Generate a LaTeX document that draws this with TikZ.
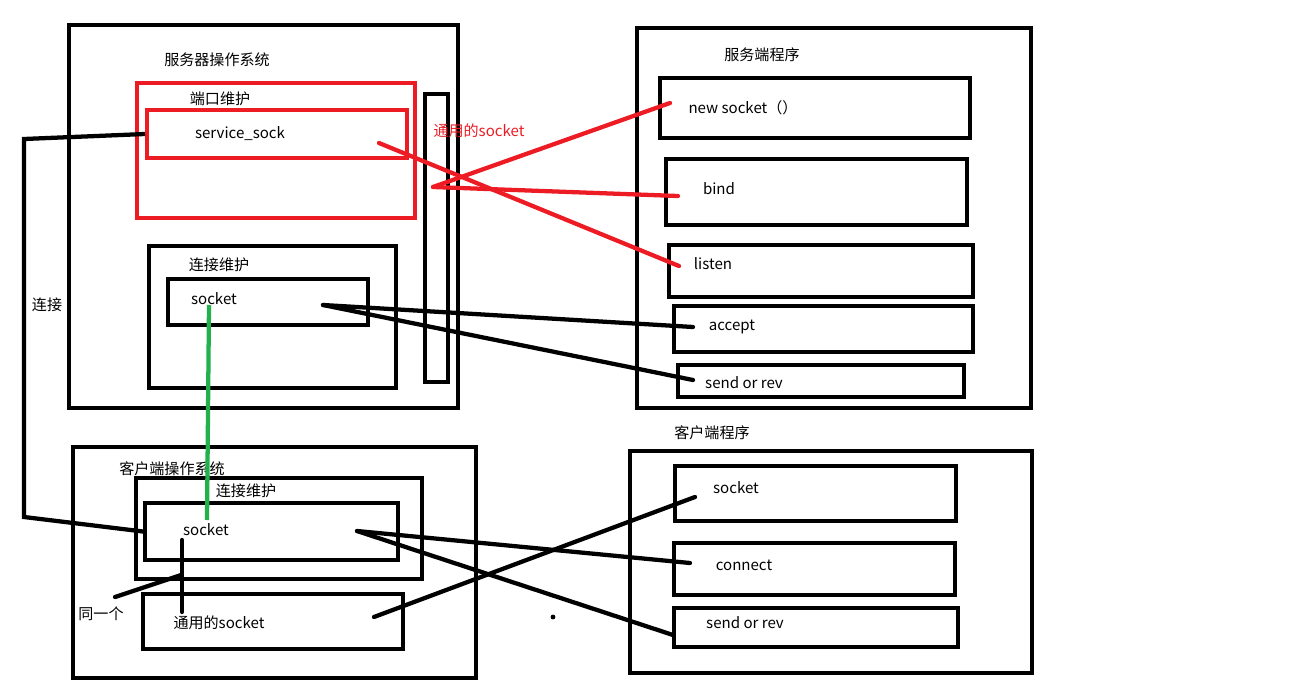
\documentclass[tikz,border=0pt]{standalone}
\usepackage{fontspec}
\setmainfont{Noto Sans CJK SC}
\usetikzlibrary{fit}
\definecolor{pred}{RGB}{237,28,36}
\definecolor{pgreen}{RGB}{34,177,76}
\tikzset{
  bx/.style={draw=black, line width=3pt, inner sep=0pt, rectangle},
  rbx/.style={draw=pred, line width=3pt, inner sep=0pt, rectangle},
  lbl/.style={font=\fontsize{11.3}{13}\selectfont, inner sep=1pt},
  rlbl/.style={lbl, text=pred},
  bl/.style={draw=black, line width=3.2pt, line cap=round},
  rl/.style={draw=pred, line width=3.2pt, line cap=round},
  gl/.style={draw=pgreen, line width=3.2pt},
}
\begin{document}
\begin{tikzpicture}[x=0.75pt,y=-0.75pt]
\useasboundingbox (0,0) rectangle (1307,692);
% ---- server OS ----
\node[bx, fit={(69,25) (458,408)}] (sos) {};
\node[lbl] (sosT) at (217,60) {服务器操作系统};
\node[rbx, fit={(137,83) (415,218)}] (port) {};
\node[lbl] (portT) at (220,99) {端口维护};
\node[rbx, fit={(147,110) (407,158)}] (ssock) {};
\node[lbl] (ssockT) at (240,134) {service\_sock};
\node[bx, fit={(425,94) (448,382)}] (bar) {};
\node[rlbl] (gsT) at (479,131) {通用的socket};
\node[bx, fit={(149,246) (396,388)}] (sconn) {};
\node[lbl] (sconnT) at (219,265) {连接维护};
\node[bx, fit={(168,279) (368,325)}] (ssk) {};
\node[lbl] (sskT) at (214,299) {socket};
% ---- server program ----
\node[bx, fit={(637,28) (1031,408)}] (sprog) {};
\node[lbl] (sprogT) at (762,55) {服务端程序};
\node[bx, fit={(660,78) (970,138)}] (newb) {};
\node[lbl] (newT) at (743,108) {new socket（）};
\node[bx, fit={(666,159) (967,225)}] (bindb) {};
\node[lbl] (bindT) at (719,189) {bind};
\node[bx, fit={(669,245) (973,297)}] (listb) {};
\node[lbl] (listT) at (713,264) {listen};
\node[bx, fit={(674,306) (973,352)}] (accb) {};
\node[lbl] (accT) at (732,327) {accept};
\node[bx, fit={(678,365) (964,397)}] (ssrb) {};
\node[lbl] (ssrT) at (744,383) {send or rev};
% ---- client OS ----
\node[bx, fit={(73,447) (476,678)}] (cos) {};
\node[bx, fit={(136,478) (422,579)}] (cconn) {};
\node[lbl] (cosT) at (172,469) {客户端操作系统};
\node[lbl] (cconnT) at (246,491) {连接维护};
\node[bx, fit={(145,503) (398,560)}] (csk) {};
\node[lbl] (cskT) at (206,530) {socket};
\node[bx, fit={(143,594) (403,649)}] (cgs) {};
\node[lbl] (cgsT) at (219,623) {通用的socket};
\node[lbl] (sameT) at (101,614) {同一个};
% ---- client program ----
\node[bx, fit={(630,451) (1032,673)}] (cprog) {};
\node[lbl] (cprogT) at (712,433) {客户端程序};
\node[bx, fit={(675,466) (956,521)}] (cpsk) {};
\node[lbl] (cpskT) at (736,488) {socket};
\node[bx, fit={(674,543) (955,595)}] (cpcon) {};
\node[lbl] (cpconT) at (744,565) {connect};
\node[bx, fit={(674,608) (958,647)}] (cpsr) {};
\node[lbl] (cpsrT) at (745,623) {send or rev};
\node[lbl] (connT) at (47,305) {连接};
% ---- connector end points ----
\coordinate (pSS) at (379,143);
\coordinate (pHub) at (433,187);
\coordinate (pNew) at (670,103);
\coordinate (pBind) at (678,196);
\coordinate (pList) at (679,266);
\coordinate (pSsk) at (323,305);
\coordinate (pAcc) at (693,327);
\coordinate (pSsr) at (693,380);
\coordinate (pGtop) at (209,305);
\coordinate (pGbot) at (207,520);
\coordinate (pCsk) at (357,531);
\coordinate (pCon) at (690,563);
\coordinate (pCsr) at (673,635);
\coordinate (pCgs) at (374,617);
\coordinate (pCpsk) at (695,497);
\coordinate (pVt) at (182,540);
\coordinate (pVb) at (182,612);
\coordinate (pSame) at (115,597);
\coordinate (pSameE) at (181,575);
\coordinate (pDot) at (553,617);
% ---- connectors ----
\draw[rl] (pSS) -- (pList);
\draw[rl] (pHub) -- (pNew);
\draw[rl] (pHub) -- (pBind);
\draw[bl] (pSsk) -- (pAcc);
\draw[bl] (pSsk) -- (pSsr);
\draw[gl] (pGtop) -- (pGbot);
\draw[draw=black, line width=3.2pt] (ssock.west) -- (24,139) -- (24,517) -- (csk.west);
\draw[bl] (pCsk) -- (pCon);
\draw[bl] (pCsk) -- (pCsr);
\draw[bl] (pCgs) -- (pCpsk);
\draw[bl] (pVt) -- (pVb);
\draw[bl] (pSame) -- (pSameE);
\fill[black] (pDot) circle (2.4);
\end{tikzpicture}
\end{document}
